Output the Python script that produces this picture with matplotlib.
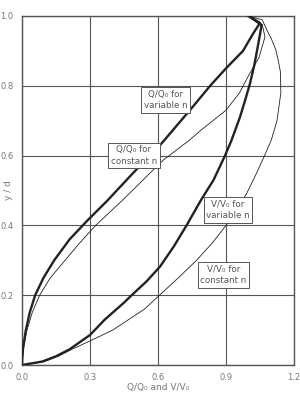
import matplotlib
matplotlib.use("Agg")
import matplotlib.pyplot as plt

# Q/Q0 for variable n (thick)
q_var_y = [0, 0.02, 0.05, 0.1, 0.15, 0.2, 0.25, 0.3, 0.36, 0.415, 0.47, 0.55, 0.635, 0.745, 0.8, 0.85, 0.9, 0.95, 0.98, 1.0]
q_var_x = [0, 0.001, 0.005, 0.017, 0.034, 0.058, 0.095, 0.142, 0.21, 0.29, 0.375, 0.49, 0.616, 0.76, 0.83, 0.90, 0.975, 1.02, 1.05, 1.0]

# Q/Q0 for constant n (thin)
q_con_y = [0, 0.05, 0.1, 0.15, 0.2, 0.25, 0.3, 0.35, 0.4, 0.47, 0.55, 0.587, 0.645, 0.673, 0.73, 0.78, 0.83, 0.88, 0.94, 0.975, 1.0]
q_con_x = [0, 0.007, 0.022, 0.045, 0.078, 0.125, 0.19, 0.255, 0.325, 0.44, 0.565, 0.623, 0.74, 0.79, 0.90, 0.96, 1.0, 1.045, 1.072, 1.06, 1.0]

# V/V0 for variable n (thick)
v_var_y = [0, 0.01, 0.025, 0.045, 0.086, 0.13, 0.177, 0.2, 0.24, 0.282, 0.34, 0.40, 0.473, 0.53, 0.599, 0.645, 0.711, 0.76, 0.807, 0.86, 0.922, 0.974, 1.0]
v_var_x = [0, 0.09, 0.15, 0.21, 0.30, 0.365, 0.447, 0.484, 0.55, 0.609, 0.67, 0.726, 0.79, 0.845, 0.895, 0.925, 0.962, 0.985, 1.006, 1.025, 1.043, 1.057, 1.0]

# V/V0 for constant n (thin)
v_con_y = [0, 0.01, 0.025, 0.045, 0.072, 0.1, 0.13, 0.16, 0.196, 0.25, 0.30, 0.35, 0.40, 0.49, 0.55, 0.607, 0.645, 0.70, 0.78, 0.84, 0.874, 0.903, 0.935, 0.96, 0.989, 1.0]
v_con_x = [0, 0.10, 0.16, 0.22, 0.31, 0.40, 0.47, 0.54, 0.60, 0.69, 0.77, 0.84, 0.90, 0.99, 1.035, 1.075, 1.10, 1.125, 1.142, 1.14, 1.13, 1.12, 1.10, 1.08, 1.06, 1.0]

x_ticks = [0.0, 0.3, 0.6, 0.9, 1.2]
x_tick_labels = ["0.0", "0.3", "0.6", "0.9", "1.2"]
y_ticks = [0.0, 0.2, 0.4, 0.6, 0.8, 1.0]
y_tick_labels = ["0.0", "0.2", "0.4", "0.6", "0.8", "1.0"]

labels = ["Q/Q\u2080 for\nvariable n", "Q/Q\u2080 for\nconstant n", "V/V\u2080 for\nvariable n", "V/V\u2080 for\nconstant n"]
label_x = [0.635, 0.494, 0.909, 0.888]
label_y = [0.759, 0.600, 0.444, 0.258]

fig = plt.figure(figsize=(3.0, 3.93), dpi=100)
ax = fig.add_axes([0.0733, 0.0712, 0.9067, 0.8881])

line_col = "#222222"
ax.plot(q_con_x, q_con_y, color=line_col, lw=0.6, zorder=3)
ax.plot(v_con_x, v_con_y, color=line_col, lw=0.6, zorder=3)
ax.plot(q_var_x, q_var_y, color=line_col, lw=1.7, zorder=4, solid_joinstyle="round")
ax.plot(v_var_x, v_var_y, color=line_col, lw=1.7, zorder=4, solid_joinstyle="round")

ax.set_xlim(0, 1.2)
ax.set_ylim(0, 1.0)
ax.set_xticks(x_ticks)
ax.set_xticklabels(x_tick_labels)
ax.set_yticks(y_ticks)
ax.set_yticklabels(y_tick_labels)
ax.grid(True, color="#555555", lw=0.8)
ax.tick_params(length=0, labelsize=6, labelcolor="#777777", pad=6)
for s in ax.spines.values():
    s.set_color("#555555")
    s.set_linewidth(1.0)

for t, lx, ly in zip(labels, label_x, label_y):
    ax.text(lx, ly, t, ha="center", va="center", fontsize=6.3, color="#555555",
            linespacing=1.35, zorder=6,
            bbox=dict(boxstyle="square,pad=0.3", fc="white", ec="#555555", lw=0.7))

ax.set_xlabel("Q/Q\u2080 and V/V\u2080", fontsize=6.5, color="#777777")
ax.xaxis.label.set_va("center")
ax.xaxis.set_label_coords(0.5, -0.063)
ax.set_ylabel("y / d", fontsize=6.5, color="#777777")
ax.yaxis.label.set_va("center")
ax.yaxis.label.set_ha("center")
ax.yaxis.set_label_coords(-0.05, 0.5)

fig.savefig("out.png", dpi=100)
